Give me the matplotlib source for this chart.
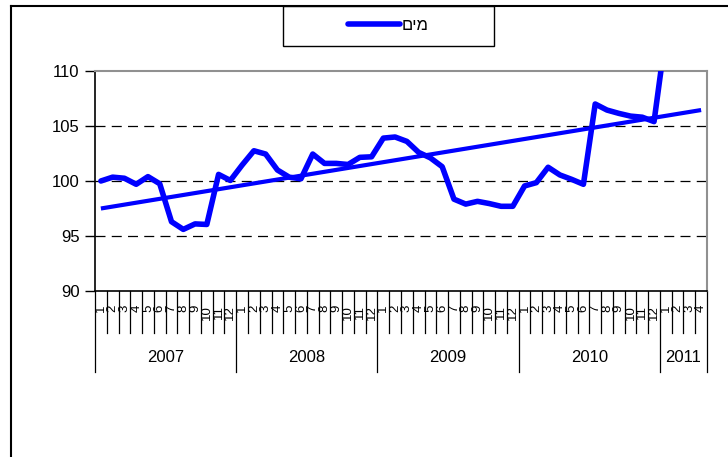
import numpy as np
import matplotlib
matplotlib.use("Agg")
import matplotlib.pyplot as plt
from matplotlib.lines import Line2D
from matplotlib.patches import Rectangle
from matplotlib.transforms import blended_transform_factory

plt.rcParams['font.family'] = ['Liberation Sans', 'DejaVu Sans']

# Monthly water price index, Jan 2007 - Apr 2011
years = ["2007", "2008", "2009", "2010", "2011"]
months_per_year = [12, 12, 12, 12, 4]
month_labels = [str(m) for n in months_per_year for m in range(1, n + 1)]
water_index = [
    100.0, 100.35, 100.25, 99.7, 100.4, 99.75, 96.3, 95.6, 96.1, 96.05, 100.6, 100.05,
    101.45, 102.75, 102.45, 101.0, 100.35, 100.2, 102.45, 101.6, 101.6, 101.5, 102.15, 102.2,
    103.9, 104.0, 103.6, 102.6, 102.1, 101.3, 98.35, 97.9, 98.15, 97.95, 97.7, 97.7,
    99.55, 99.85, 101.25, 100.55, 100.15, 99.7, 107.0, 106.45, 106.15, 105.9, 105.8, 105.4,
    113.3, 113.7, 113.9, 114.0,
]
series_label = "מים"
y_ticks = [90, 95, 100, 105, 110]

W, H = 728, 457
fig = plt.figure(figsize=(W / 100, H / 100), dpi=100)
fig.patch.set_facecolor("white")

# plot area in pixel terms
left, right, top, bottom = 95, 707, 71, 291
ax = fig.add_axes([left / W, 1 - bottom / H, (right - left) / W, (bottom - top) / H])

x = np.arange(len(water_index))
y = np.array(water_index)

blue = "#0000FF"
line, = ax.plot(x, y, color=blue, lw=4.0, solid_joinstyle="round", solid_capstyle="round", zorder=4)

# linear trend across the whole series
coef = np.polyfit(x, y, 1)
ax.plot(x, np.polyval(coef, x), color=blue, lw=3.0, solid_capstyle="butt", zorder=3)

ax.set_xlim(-0.5, len(x) - 0.5)
ax.set_ylim(90, 110)
ax.set_yticks(y_ticks)
ax.tick_params(axis="y", direction="out", length=7, width=1, color="black", pad=4, labelsize=12)

for g in [95, 100, 105]:
    ax.axhline(g, color="black", lw=0.9, dashes=(8, 5), zorder=1)

for side in ["top", "right"]:
    ax.spines[side].set_color("#909090")
    ax.spines[side].set_linewidth(1.5)
for side in ["left", "bottom"]:
    ax.spines[side].set_color("black")
    ax.spines[side].set_linewidth(1.2)

# month labels, vertical
ax.set_xticks(x)
ax.set_xticklabels(month_labels, rotation=90, fontsize=9.5)
ax.tick_params(axis="x", length=0, pad=10)

# category separators and year groups below the axis
trans = blended_transform_factory(ax.transData, ax.transAxes)
ah = bottom - top
short_y = -(333 - bottom) / ah
long_y = -(372 - bottom) / ah
year_y = -(357 - bottom) / ah
starts = np.cumsum([0] + months_per_year)
year_edges = set(starts.tolist())
for b in range(len(x) + 1):
    yb = long_y if b in year_edges else short_y
    ax.plot([b - 0.5, b - 0.5], [0, yb], transform=trans, color="black", lw=0.9,
            clip_on=False, zorder=2)
for i, yr in enumerate(years):
    cx = (starts[i] + starts[i + 1] - 1) / 2
    ax.text(cx, year_y, yr, transform=trans, ha="center", va="center", fontsize=12)

# chart border (top and left edges)
fig.add_artist(Line2D([11 / W, 1], [1 - 6 / H, 1 - 6 / H], transform=fig.transFigure,
                      color="black", lw=1.5))
fig.add_artist(Line2D([11 / W, 11 / W], [1 - 6 / H, 0], transform=fig.transFigure,
                      color="black", lw=1.5))

# legend box
fig.add_artist(Rectangle((283 / W, 1 - 46 / H), (494 - 283) / W, 40 / H,
                         transform=fig.transFigure, fill=False, edgecolor="black", lw=1.0))
# matplotlib lays glyphs out left to right, so the RTL word is reversed for display
fig.legend(handles=[line], labels=[series_label[::-1]], loc="center",
           bbox_to_anchor=(388.5 / W, 1 - 25 / H), frameon=False, fontsize=12,
           handlelength=3.1, handletextpad=0.15)

fig.savefig("out.png", dpi=100)
